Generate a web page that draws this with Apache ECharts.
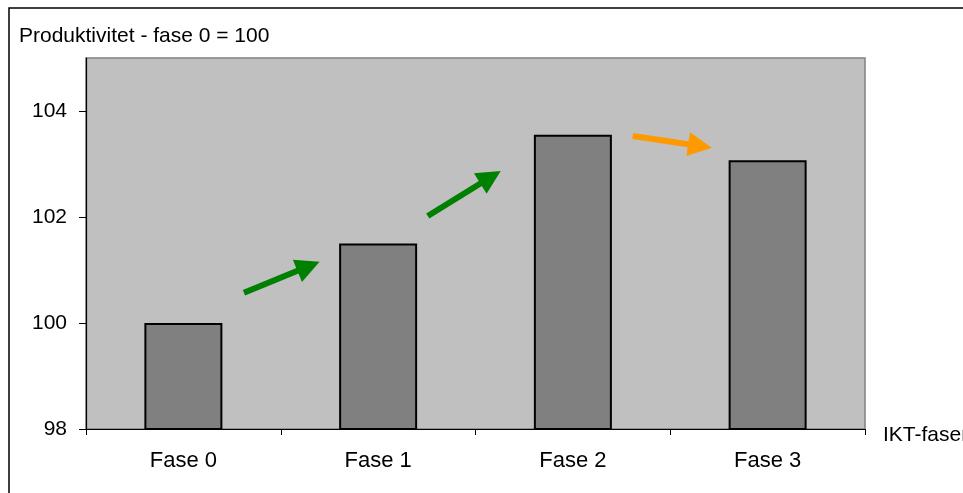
<!DOCTYPE html>
<html>
<head>
<meta charset="utf-8">
<script src="https://cdn.jsdelivr.net/npm/echarts@6/dist/echarts.min.js"></script>
<style>html,body{margin:0;padding:0;background:#fff}#c{width:963px;height:493px}</style>
</head>
<body>
<div id="c"></div>
<script>
const categories = ['Fase 0', 'Fase 1', 'Fase 2', 'Fase 3'];
const productivity = [100, 101.5, 103.55, 103.07];
const yTicks = [98, 100, 102, 104];
const titleText = 'Produktivitet - fase 0 = 100';
const xAxisName = 'IKT-faser';
// annotation arrows: [ [xIndex, y] from, [xIndex, y] to ]
const greenArrows = [
  [[0.311, 100.57], [0.6425, 101.07]],
  [[1.255, 102.02], [1.577, 102.75]]
];
const orangeArrows = [
  [[2.307, 103.53], [2.653, 103.34]]
];

const FONT = '"Liberation Sans", Arial, sans-serif';
const chart = echarts.init(document.getElementById('c'));
chart.setOption({
  animation: false,
  backgroundColor: '#fff',
  title: {
    text: titleText, left: 14, top: 21,
    textStyle: { fontFamily: FONT, fontSize: 21, fontWeight: 'normal', color: '#000' }
  },
  graphic: [{
    type: 'rect', shape: { x: 9, y: 8, width: 1000, height: 1000 },
    style: { fill: 'none', stroke: '#000', lineWidth: 1.5 }, silent: true
  }],
  grid: {
    left: 86, right: 98, top: 58, bottom: 64, show: true,
    outerBoundsMode: 'none', containLabel: false,
    backgroundColor: '#C0C0C0', borderColor: '#808080', borderWidth: 1.5
  },
  xAxis: [{
    type: 'category', data: categories,
    name: xAxisName, nameLocation: 'end', nameGap: 18,
    nameTextStyle: { fontFamily: FONT, fontSize: 21, color: '#000', align: 'left', verticalAlign: 'top', padding: [-4, 0, 0, 0] },
    axisLine: { lineStyle: { color: '#000', width: 1.2 } },
    axisTick: { show: true, length: 6, lineStyle: { color: '#000' } },
    axisLabel: { fontFamily: FONT, fontSize: 22, color: '#000', margin: 21 },
    splitLine: { show: false }
  }, {
    type: 'value', min: -0.5, max: 3.5, show: false
  }],
  yAxis: {
    type: 'value', min: 98, max: 105, interval: 2,
    axisLine: { show: true, onZero: false, lineStyle: { color: '#000', width: 1.2 } },
    axisTick: { show: true, length: 7, lineStyle: { color: '#000' }, customValues: yTicks },
    axisLabel: { fontFamily: FONT, fontSize: 21, color: '#000', margin: 19, customValues: yTicks },
    splitLine: { show: false }
  },
  series: [{
    type: 'bar', data: productivity, barWidth: 78,
    itemStyle: { color: '#808080', borderColor: '#000', borderWidth: 2 }
  }, {
    type: 'lines', coordinateSystem: 'cartesian2d', xAxisIndex: 1, yAxisIndex: 0,
    symbol: ['none', 'triangle'], symbolSize: [22, 24],
    lineStyle: { color: '#008000', width: 6, opacity: 1 },
    data: greenArrows.map(c => ({ coords: c })), z: 5
  }, {
    type: 'lines', coordinateSystem: 'cartesian2d', xAxisIndex: 1, yAxisIndex: 0,
    symbol: ['none', 'triangle'], symbolSize: [22, 24],
    lineStyle: { color: '#FF9900', width: 6, opacity: 1 },
    data: orangeArrows.map(c => ({ coords: c })), z: 5
  }]
});
</script>
</body>
</html>
